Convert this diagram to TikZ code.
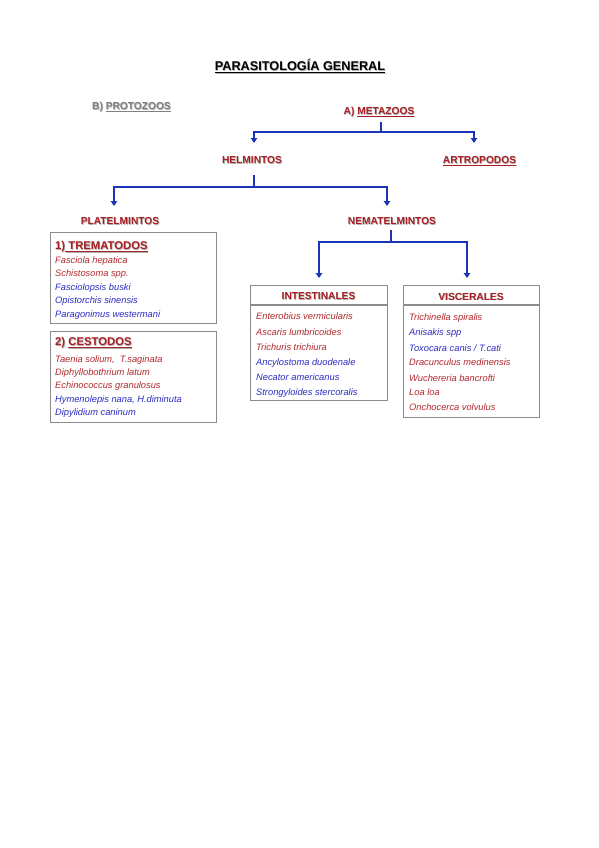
\documentclass[tikz,border=0pt]{standalone}
\usepackage{fontspec}
\setmainfont{Liberation Sans}
\usetikzlibrary{arrows.meta}
\definecolor{hred}{RGB}{168,32,36}
\definecolor{sred}{RGB}{178,40,44}
\definecolor{sblue}{RGB}{44,44,196}
\definecolor{cblue}{RGB}{28,52,182}
\definecolor{bgray}{RGB}{140,140,140}
\definecolor{pgray}{RGB}{128,128,128}
\definecolor{shgray}{RGB}{178,178,178}
\newcommand{\shd}[2]{\makebox[0pt][l]{\kern0.7pt\raisebox{-0.7pt}{\color{shgray}#2}}{\color{#1}#2}}
\begin{document}
\begin{tikzpicture}[x=1pt,y=-1pt,
  hd/.style={anchor=base,inner sep=0pt,font=\fontsize{10.2}{12}\selectfont\bfseries},
  species/.style={anchor=base west,inner sep=0pt,font=\fontsize{9.3}{11}\selectfont\itshape},
  rs/.style={species,text=sred},
  bs/.style={species,text=sblue},
  box/.style={draw=bgray,line width=1.1pt,anchor=north west,inner sep=0pt},
  sepline/.style={draw=bgray,line width=1.1pt},
  conn/.style={draw=cblue,line width=2pt,-{Triangle[length=5pt,width=6.5pt]}},
]
\useasboundingbox[fill=white] (0,0) rectangle (599,848);

% title
\node[anchor=base,inner sep=0pt,font=\fontsize{12.7}{14}\selectfont\bfseries] (title) at (300,71)
  {\shd{black}{\underline{PARASITOLOGÍA GENERAL}}};

% top level
\node[hd,anchor=base west] (protozoos) at (92,109.5) {\shd{pgray}{B) \underline{PROTOZOOS}}};
\node[hd] (metazoos) at (379,114.5) {\shd{hred}{A) \underline{METAZOOS}}};
\node[hd] (helmintos) at (252,163.5) {\shd{hred}{HELMINTOS}};
\node[hd] (artropodos) at (479.5,163.5) {\shd{hred}{\underline{ARTROPODOS}}};
\node[hd] (platel) at (120,224.5) {\shd{hred}{PLATELMINTOS}};
\node[hd] (nematel) at (392,224.5) {\shd{hred}{NEMATELMINTOS}};

% connector anchor points
\coordinate (m0) at (381,122);
\coordinate (hin) at (254,143);
\coordinate (ain) at (474,143);
\coordinate (h0) at (254,175);
\coordinate (pin) at (114,206);
\coordinate (nin) at (387,206);
\coordinate (n0) at (391,230);
\coordinate (iin) at (319,278);
\coordinate (vin) at (467,278);

\draw[conn] (m0) -- ++(0,10) -| (hin);
\draw[conn] (m0) -- ++(0,10) -| (ain);
\draw[conn] (h0) -- ++(0,12) -| (pin);
\draw[conn] (h0) -- ++(0,12) -| (nin);
\draw[conn] (n0) -- ++(0,12) -| (iin);
\draw[conn] (n0) -- ++(0,12) -| (vin);

% TREMATODOS box
\node[box,minimum width=166pt,minimum height=91pt] (tremat) at (50,232) {};
\node[hd,anchor=base west,font=\fontsize{11.3}{13}\selectfont\bfseries] (tremhd) at (55,249.5)
  {\shd{hred}{1)\underline{\ TREMATODOS}}};
\node[rs] (t1) at (55,263) {Fasciola hepatica};
\node[rs] (t2) at (55,276.5) {Schistosoma spp.};
\node[bs] (t3) at (55,290) {Fasciolopsis buski};
\node[bs] (t4) at (55,303.5) {Opistorchis sinensis};
\node[bs] (t5) at (55,317) {Paragonimus westermani};

% CESTODOS box
\node[box,minimum width=166pt,minimum height=91pt] (cestod) at (50,331) {};
\node[hd,anchor=base west,font=\fontsize{11.3}{13}\selectfont\bfseries] (cesthd) at (55,345.5)
  {\shd{hred}{2) \underline{CESTODOS}}};
\node[rs] (c1) at (55,362) {Taenia solium,\ \ T.saginata};
\node[rs] (c2) at (55,375) {Diphyllobothrium latum};
\node[rs] (c3) at (55,388.5) {Echinococcus granulosus};
\node[bs] (c4) at (55,402) {Hymenolepis nana, H.diminuta};
\node[bs] (c5) at (55,415.5) {Dipylidium caninum};

% INTESTINALES box
\node[box,minimum width=137pt,minimum height=115pt] (intest) at (250,285) {};
\draw[sepline] (250,305) -- (387,305);
\node[hd] (inthd) at (318.5,299.7) {\shd{hred}{INTESTINALES}};
\node[rs] (i1) at (256,319.5) {Enterobius vermicularis};
\node[rs] (i2) at (256,335) {Ascaris lumbricoides};
\node[rs] (i3) at (256,350) {Trichuris trichiura};
\node[bs] (i4) at (256,365) {Ancylostoma duodenale};
\node[bs] (i5) at (256,380) {Necator americanus};
\node[bs] (i6) at (256,395.5) {Strongyloides stercoralis};

% VISCERALES box
\node[box,minimum width=136pt,minimum height=132pt] (visc) at (403,285) {};
\draw[sepline] (403,305) -- (539,305);
\node[hd] (vischd) at (471,300) {\shd{hred}{VISCERALES}};
\node[rs] (v1) at (409,320.5) {Trichinella spiralis};
\node[bs] (v2) at (409,335.5) {Anisakis spp};
\node[bs] (v3) at (409,351) {Toxocara canis / T.cati};
\node[rs] (v4) at (409,365.5) {Dracunculus medinensis};
\node[rs] (v5) at (409,381) {Wuchereria bancrofti};
\node[rs] (v6) at (409,395.5) {Loa loa};
\node[rs] (v7) at (409,410.5) {Onchocerca volvulus};
\end{tikzpicture}
\end{document}
